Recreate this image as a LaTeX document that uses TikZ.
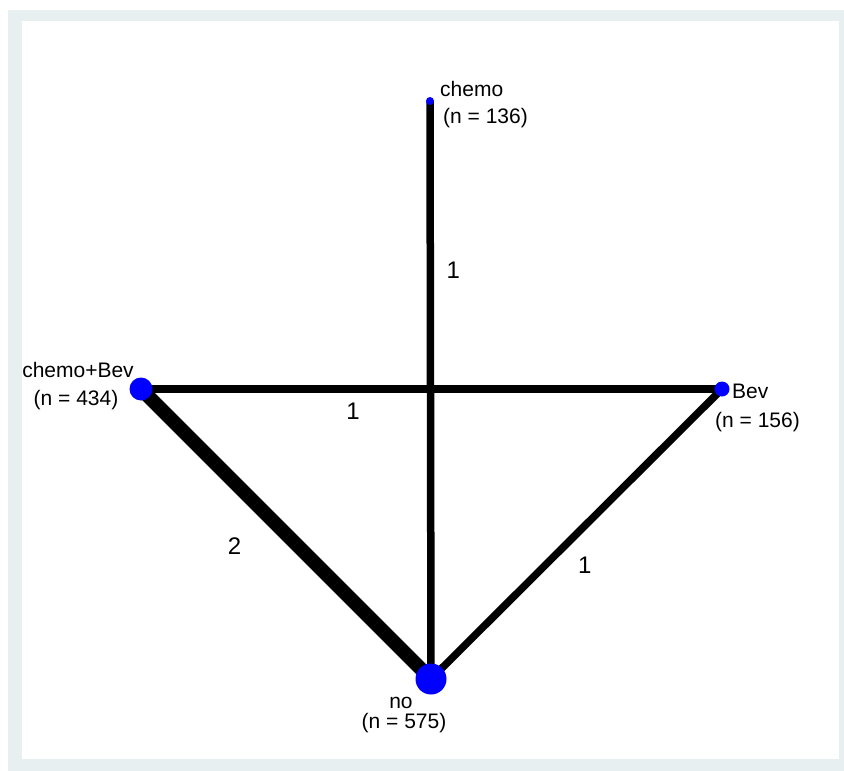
\documentclass[tikz,border=0pt]{standalone}
\usepackage{fontspec}
\setmainfont{Liberation Sans}
\usetikzlibrary{backgrounds}

\definecolor{bandgray}{HTML}{E7EFF1}

\begin{document}
\begin{tikzpicture}[x=1pt, y=-1pt,
            arm/.style={circle, fill=blue, inner sep=0pt},
            lab/.style={font=\fontsize{21}{25}\selectfont, inner sep=0pt},
            edge/.style={line width=7.5pt, black},
            count/.style={font=\fontsize{24}{28}\selectfont, inner sep=0pt}
        ]
            \useasboundingbox (0,0) rectangle (844,771);

            % treatment arms
            \node[arm, minimum size=8pt] (chemo) at (430,101) {};
            \node[arm, minimum size=23pt] (cbev) at (141,389) {};
            \node[arm, minimum size=15pt] (bev) at (722,389) {};
            \node[arm, minimum size=31pt] (no) at (431,679) {};

            % arm names and sizes
            \node[lab, anchor=base west] at (440,96) {chemo};
            \node[lab, anchor=base west] at (443,123) {(n = 136)};
            \node[lab, anchor=base] at (78,377) {chemo+Bev};
            \node[lab, anchor=base] at (76,405) {(n = 434)};
            \node[lab, anchor=base west] at (732,398) {Bev};
            \node[lab, anchor=base west] at (715,427) {(n = 156)};
            \node[lab, anchor=base] at (401,708) {no};
            \node[lab, anchor=base] at (404,728) {(n = 575)};

            \begin{scope}[on background layer]
                \fill[bandgray] (8,10) rectangle (844,771);
                \fill[white] (22,21) rectangle (839,759);
                \draw[edge] (chemo.center) -- node[count, pos=0.292, xshift=23pt] {1} (no.center);
                \draw[edge] (cbev.center) -- node[count, pos=0.365, yshift=-22pt] {1} (bev.center);
                \draw[edge, line width=14pt] (cbev.center) -- node[count, pos=0.44, xshift=-34pt, yshift=-30pt] {2} (no.center);
                \draw[edge] (bev.center) -- node[count, pos=0.54, xshift=20pt, yshift=-20pt] {1} (no.center);
            \end{scope}
        \end{tikzpicture}
\end{document}
